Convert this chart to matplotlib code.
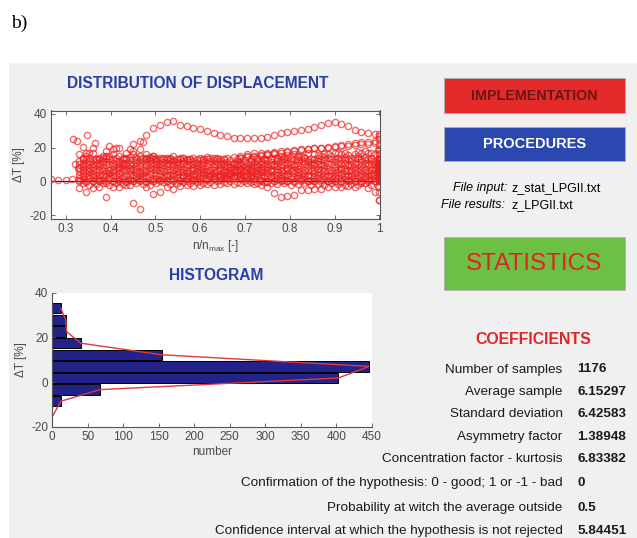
import numpy as np
import matplotlib
matplotlib.use("Agg")
from matplotlib import pyplot as plt
from matplotlib.patches import Rectangle

nan = np.nan
W, H = 637, 538

# --- scatter data: n/n_max grid and several measured trajectories of dT [%]
grid_a = np.round(np.arange(0.33, 0.9901, 0.015), 4)
grid_b = grid_a + 0.0075

band_a = [
    [1,0.5,0,1,0.5,0,1,0,0.5,1,0,0.5,1,0,0.5,1,1.5,1,2,1.5,2,2.5,2,3,2.5,2,1.5,1,0.5,0,1,0.5,0,1,0,0.5,1,0,0.5,0,1,0.5,0,1,0.5],
    [2,3,2.5,2,3,3.5,2.5,3,2,3,2.5,2,3,3.5,3,2.5,3,3.5,3,4,3.5,3,4,3.5,4,3.5,3,3.5,3,2.5,2,3,2.5,2,3,2.5,2,3,2.5,2,3,2,2.5,3,2],
    [4,5,4.5,4,5,5.5,5,4.5,4,5,5.5,5,4.5,4,5,5.5,5,4.5,5,5.5,5,4.5,5,5.5,5,4.5,5,5.5,5,4.5,4,4.5,5,4.5,4,5,4.5,4,5,4.5,4,5,4.5,5,4],
    [6,7,6.5,7,6,7,7.5,7,6.5,6,7,7.5,7,6.5,7,6.5,6,7,6.5,6,7,6.5,6,6.5,7,6.5,6,6.5,7,6.5,6,7,6.5,6,7,6.5,7,6,6.5,7,6,7,6.5,6,7],
    [8,9,8.5,9,9.5,9,8.5,9,8,9,9.5,9,8.5,9,9.5,9,8.5,8,8.5,9,8.5,8,8.5,8,7.5,8,8.5,8,8.5,9,8.5,8,9,8.5,9,9.5,9,8.5,9,8,9,8.5,9,9.5,8],
    [10,11,10.5,11,11.5,11,10,11,10.5,11,11.5,11,10.5,11,11.5,11,10.5,10,10.5,11,10.5,10,9.5,10,9.5,9,9.5,10,10.5,10,10.5,11,10.5,11,11.5,11,10.5,11,11.5,11,10.5,11,11.5,11,10],
    [12,13,12.5,13,14,13,12,13.5,12.5,13,13.5,13,12.5,13,12.5,13,12.5,12,12.5,13,12.5,12,11.5,11,11.5,11,11.5,12,12.5,13,12.5,13,13.5,13,12.5,13,13.5,14,13,13.5,13,14,13.5,13,12],
    [0,-0.5,0.5,0,-1,0.5,0,-0.5,0,0.5,-0.5,0,0.5,0,1,0.5,0,1,0.5,1,1.5,1,1.5,2,1.5,1,0.5,0,-0.5,0,0.5,0,-0.5,0,0.5,0,-0.5,0.5,0,-0.5,0.5,0,-0.5,0,0.5],
    [16,15,17,14,15,16,15,14,16,15,14,15,14,14,15,14,13.5,14,14,14.5,14,13.5,14,14.5,14,15,14.5,15,15.5,16,15,15.5,16,15,16.5,16,15,16,16.5,16,15.5,16,16.5,17,16],
    [nan,17,20,nan,18,19,20,17,18,19,16,15,nan,nan,nan,nan,nan,nan,nan,nan,nan,nan,nan,nan,15,16,16.5,17,17,17.5,18,18,18.5,19,19,19.5,20,20,20.5,21,21,21.5,22,22,22.5],
    [nan,nan,nan,nan,nan,nan,nan,nan,nan,nan,nan,nan,nan,nan,nan,nan,nan,nan,nan,nan,nan,nan,nan,nan,14,14.5,15,15.5,16,16.5,17,17.5,18,18.5,19,19.5,20,20.5,21,21.5,22,22.5,23,23,24],
    [nan,nan,nan,nan,nan,nan,nan,nan,22,24,27.5,31.5,33.5,35,35.4,33.5,32.5,31.5,31,30,28.5,27.2,26.5,25.8,25.8,25.8,25.8,25.8,26.2,27.5,28.5,29.2,29.8,30.2,31,32,33.5,34.6,35.2,34,32.5,30.5,29,28.6,28.2],
    [-3.6,-6,-4,-3,-9.2,-3,-3.2,-2,-12.6,-16.2,-3.2,-7.6,-6.2,-3,-4.2,-2.5,-2,-2.5,-2,-1.5,-2,-1.5,-1,-1.5,-1,-1,-1.5,-2,-3,-6.6,-9.2,-8.5,-8.2,-5.2,-4.8,-4.5,-4.2,-3.2,-3.4,-3.2,-2.8,-3.2,-1.2,-4,-6.2],
]
band_b = [
    [3,4,3.5,4,4.5,4,3.5,4,3,4,4.5,4,3.5,4,4.5,4,3.5,4,4.5,4,3.5,4,4.5,4,3.5,4,4.5,4,3.5,4,3,3.5,4,3.5,3,4,3.5,3,4,3.5,3,4,3.5,4,3],
    [5,6,5.5,6,5,6,6.5,6,5.5,5,6,6.5,6,5.5,6,5.5,5,6,5.5,5,6,5.5,5,5.5,6,5.5,5,5.5,6,5.5,5,6,5.5,5,6,5.5,6,5,5.5,6,5,6,5.5,5,6],
    [7,8,7.5,8,7,8,8.5,8,7.5,7,8,8.5,8,7.5,8,7.5,7,8,7.5,7,6.5,7,6.5,7,6,6.5,7,7.5,7,7.5,7,8,7.5,7,8,7.5,8,7,7.5,8,7,8,7.5,7,8],
    [1,2,1.5,1,2,1.5,2,1,1.5,2,1,1.5,2,1.5,2,2.5,2,1.5,2,2.5,3,2.5,3,3.5,3,2.5,3,2.5,2,1.5,1,1.5,2,1.5,1,2,1.5,1,2,1.5,1,2,1.5,1,2],
    [9,10,9.5,10,10.5,10,9.5,10,9,10,10.5,10,9.5,10,10.5,10,9.5,9,9.5,10,9.5,9,8.5,9,8.5,8,8.5,9,9.5,9,9.5,10,9.5,10,10.5,10,9.5,10,10.5,10,9.5,10,10.5,10,9],
    [11,12,11.5,12,13,12,11,12.5,11.5,12,12.5,12,11.5,12,11.5,12,11.5,11,11.5,12,11.5,11,10.5,10,10.5,10,10.5,11,11.5,12,11.5,12,12.5,12,11.5,12,12.5,13,12,12.5,12,13,12.5,12,11],
    [13,14,13.5,14,15,14,13,14.5,13.5,14,14.5,14,13.5,14,13.5,14,13.5,13,13.5,14,13.5,13,12.5,12,12.5,12,12.5,13,13.5,14,13.5,14,14.5,14,13.5,14,14.5,15,14,14.5,14,15,14.5,14,13],
    [-1,-2,-1.5,-1,-2,-1,-1.5,-2,-1,-1.5,-2,-1,-0.5,-1.5,-1,-0.5,-1,-0.5,-1,-0.5,0,-0.5,0,-0.5,0,-0.5,-1,-0.5,-1,-1.5,-1,-2,-1.5,-1,-2,-1.5,-2,-1,-1.5,-2,-1.5,-2,-1,-2,-2.5],
    [14,16.8,13,15,20.8,19.8,14,19.2,14.5,23.2,14,13.5,14,13.5,nan,14,13,nan,13.5,nan,14,13,nan,13.5,nan,13,14,13.5,nan,14,14.5,nan,15,14.5,nan,15.5,16,nan,17,16.5,nan,17.5,18,17,18.5],
]
edge_x = [0.267, 0.283, 0.30, 0.315, 0.316, 0.325, 0.338, 0.348, 0.365, 0.32, 0.328]
edge_y = [1.5, 1.0, 1.0, 1.5, 24.8, 23.8, 20.4, 27.2, 22.8, 10, 8]
col_y = [0,1,2,3,4,5,6,7,8,9,10,11,12,13,14,0.5,1.5,2.5,3.5,4.5,5.5,6.5,7.5,8.5,9.5,10.5,11.5,12.5,13.5,16,17,19,22,25,27,28,-3,-6,-10.8,-11.2]

# --- histogram
bin_centers = [33.0, 27.8, 22.6, 17.4, 12.2, 7.0, 1.8, -3.4, -8.6]
counts = [12, 19, 20, 40, 154, 446, 403, 67, 12]
fit_x = [12, 19, 20, 40, 154, 446, 403, 67, 12, 0]
fit_y = [33.0, 27.8, 22.6, 17.4, 12.2, 7.0, 1.8, -3.4, -8.6, -15.5]

coef_labels = ["Number of samples", "Average sample", "Standard deviation",
               "Asymmetry factor", "Concentration factor - kurtosis",
               "Confirmation of the hypothesis: 0 - good; 1 or -1 - bad",
               "Probability at witch the average outside",
               "Confidence interval at which the hypothesis is not rejected"]
coef_values = ["1176", "6.15297", "6.42583", "1.38948", "6.83382", "0", "0.5", "5.84451"]

plt.rcParams["font.family"] = "Liberation Sans"
plt.rcParams["axes.unicode_minus"] = False

fig = plt.figure(figsize=(W / 100, H / 100), dpi=100)
fig.patch.set_facecolor("white")


def fx(px):
    return px / W


def fy(py):
    return 1 - py / H


def box(x0, y0, x1, y1, color, **kw):
    fig.patches.append(Rectangle((fx(x0), fy(y1)), fx(x1) - fx(x0), fy(y0) - fy(y1),
                                 transform=fig.transFigure, facecolor=color, **kw))


box(9, 63, 637, 538, "#f0f0f0", edgecolor="none", zorder=-10)
fig.text(fx(11), fy(23), "b)", family="Liberation Serif", fontsize=14, va="center")

blue_t = "#2a3ca8"
tick_c = "#4a4a4a"
pt = dict(ms=4.5, mfc="none", mec="#ec1e1e", mew=1.0, alpha=0.65, ls="none", marker="o")

# scatter
ax1 = fig.add_axes([fx(50.7), fy(219.3), fx(380) - fx(50.7), fy(110.5) - fy(219.3)])
for ys in band_a:
    ax1.plot(grid_a, ys, **pt)
for ys in band_b:
    ax1.plot(grid_b, ys, **pt)
ax1.plot(edge_x, edge_y, **pt)
ax1.plot(np.full(len(col_y), 0.9995), col_y, **pt)
ax1.axhline(0, color="#202020", lw=0.9, zorder=0.5)
ax1.set_xlim(0.2665, 1.0015)
ax1.set_ylim(-22.3, 41.8)
ax1.set_xticks([0.3, 0.4, 0.5, 0.6, 0.7, 0.8, 0.9, 1])
ax1.set_xticklabels(["0.3", "0.4", "0.5", "0.6", "0.7", "0.8", "0.9", "1"])
ax1.set_yticks([-20, 0, 20, 40])
ax1.tick_params(direction="in", top=True, right=True, length=3, width=0.6,
                labelsize=8.5, labelcolor=tick_c, color="#555555", pad=3)
for s in ax1.spines.values():
    s.set_color("#555555")
    s.set_linewidth(0.8)
ax1.set_xlabel("n/n$_{\\mathregular{max}}$ [-]", fontsize=8.5, color=tick_c, labelpad=2)
ax1.set_ylabel("ΔT [%]", fontsize=8.5, color=tick_c, labelpad=3)
fig.text(fx(198), fy(83), "DISTRIBUTION OF DISPLACEMENT", fontsize=11.2,
         weight="bold", color=blue_t, ha="center", va="center")

# histogram
ax2 = fig.add_axes([fx(52.3), fy(426.7), fx(371.7) - fx(52.3), fy(292.7) - fy(426.7)])
ax2.barh(bin_centers, counts, height=4.6, color="#22228a", edgecolor="black", linewidth=0.7)
ax2.plot(fit_x, fit_y, color="#e03838", lw=1.0)
ax2.set_xlim(0, 450)
ax2.set_ylim(-20, 40)
ax2.set_xticks(range(0, 451, 50))
ax2.set_yticks([-20, 0, 20, 40])
ax2.spines["top"].set_visible(False)
ax2.spines["right"].set_visible(False)
for s in ax2.spines.values():
    s.set_color("#555555")
    s.set_linewidth(0.8)
ax2.tick_params(direction="in", length=3, width=0.6, labelsize=8.5, labelcolor=tick_c,
                color="#555555", pad=3)
ax2.set_xlabel("number", fontsize=8.5, color=tick_c, labelpad=2)
ax2.set_ylabel("ΔT [%]", fontsize=8.5, color=tick_c, labelpad=3)
fig.text(fx(216), fy(275), "HISTOGRAM", fontsize=11.2,
         weight="bold", color=blue_t, ha="center", va="center")

# buttons
box(444, 78, 625, 113, "#e52a2a", edgecolor="#b0b0b0", lw=0.6, zorder=1)
fig.text(fx(534.5), fy(96), "IMPLEMENTATION", fontsize=10.3, weight="bold",
         color="#6a1616", ha="center", va="center")
box(444, 127, 625, 161, "#2a48b0", edgecolor="#b0b0b0", lw=0.6, zorder=1)
fig.text(fx(534.5), fy(144), "PROCEDURES", fontsize=10.5, weight="bold",
         color="white", ha="center", va="center")
box(444, 237, 625, 290, "#6cc043", edgecolor="#b0b0b0", lw=0.6, zorder=1)
fig.text(fx(534.5), fy(263.5), "STATISTICS", fontsize=17.5,
         color="#e02424", ha="center", va="center")

fig.text(fx(507), fy(188), "File input:", style="italic", fontsize=9,
         ha="right", va="center")
fig.text(fx(512), fy(188), "z_stat_LPGII.txt", fontsize=9, va="center")
fig.text(fx(505), fy(205), "File results:", style="italic", fontsize=9,
         ha="right", va="center")
fig.text(fx(512), fy(205), "z_LPGII.txt", fontsize=9, va="center")

# coefficients
fig.text(fx(533), fy(340), "COEFFICIENTS", fontsize=11.4, weight="bold",
         color="#e0262a", ha="center", va="center")
row_y = [369.5, 392, 414, 437, 459.5, 483, 508, 531]
for lab, val, yy in zip(coef_labels, coef_values, row_y):
    fig.text(fx(562.5), fy(yy), lab, fontsize=9.7, ha="right", va="center",
             color="#1a1a1a")
    fig.text(fx(577.5), fy(yy), val, fontsize=9.7, weight="bold",
             va="center", color="#1a1a1a")

fig.savefig("out.png", dpi=100)
